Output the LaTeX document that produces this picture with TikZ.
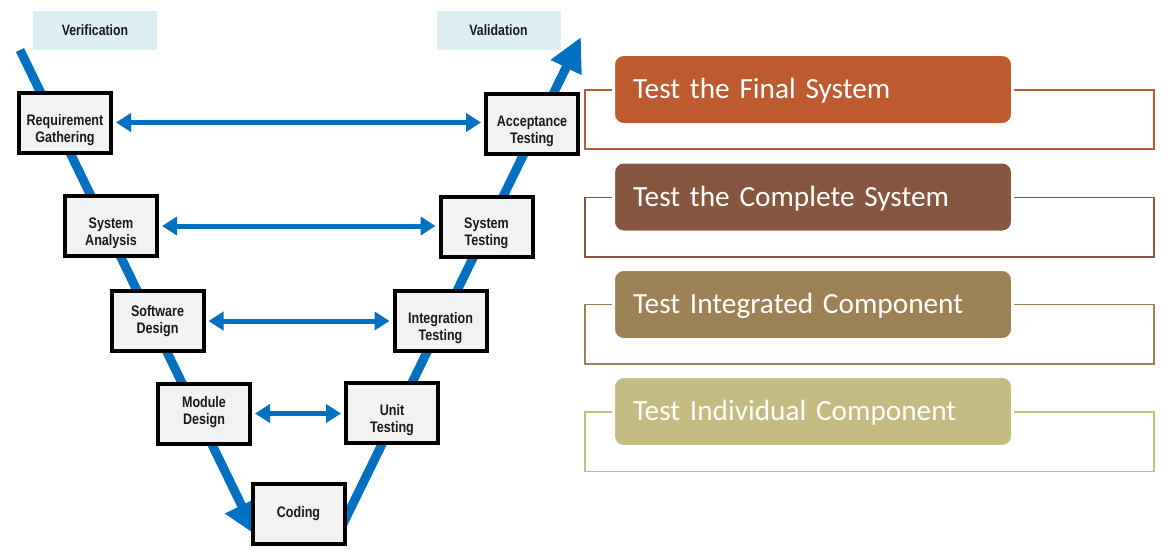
\documentclass[tikz,border=0pt]{standalone}
\usepackage{fontspec}
\setmainfont{Carlito}
\newfontfamily\vfont[FakeStretch=0.82]{Liberation Sans}
\usetikzlibrary{arrows.meta}
\definecolor{vblue}{HTML}{0070C0}
\definecolor{boxgrey}{HTML}{F2F2F2}
\definecolor{tagblue}{HTML}{DDEFF3}
\definecolor{textdark}{HTML}{1A1A1A}
\definecolor{lvA}{HTML}{BE5A2F}
\definecolor{lvB}{HTML}{875640}
\definecolor{lvC}{HTML}{9C8256}
\definecolor{lvD}{HTML}{C4BC82}
\begin{document}
\begin{tikzpicture}[x=1pt,y=-1pt,
  phase/.style={draw=black, line width=4pt, fill=boxgrey, minimum width=92pt,
    minimum height=60pt, inner sep=0pt},
  phasetxt/.style={inner sep=0pt, align=center, text=textdark,
    font=\vfont\bfseries\fontsize{15.3}{17}\selectfont},
  tag/.style={fill=tagblue, minimum width=124pt, minimum height=39pt, inner sep=0pt,
    text=textdark, font=\vfont\bfseries\fontsize{15}{17}\selectfont},
  harrow/.style={draw=vblue, line width=5pt,
    {Triangle[length=15pt,width=18pt]}-{Triangle[length=15pt,width=18pt]},
    shorten <=3pt, shorten >=3pt},
  vline/.style={draw=vblue, line width=9pt},
  level/.style={rounded corners=10pt, draw=white, line width=3pt, minimum width=399pt,
    minimum height=70pt, text width=360pt, inner xsep=19.5pt, inner ysep=0pt,
    align=left, text height=18.8pt, text depth=0pt, text=white,
    font=\fontsize{29.3}{31}\selectfont},
  frame/.style={line width=1.6pt}
]
\useasboundingbox (0,0) rectangle (1169,551);

% V lines
\coordinate (vstart) at (20,50);
\coordinate (vend) at (256,535);
\coordinate (rstart) at (340,530);
\coordinate (rend) at (581,37);
\draw[vline, -{Triangle[width=35pt,length=33pt]}] (vstart) -- (vend);
\draw[vline, -{Triangle[width=32pt,length=34pt]}] (rstart) -- (rend);

% labels
\node[tag] (ver) at (95,30.5) {Verification};
\node[tag] (val) at (498.5,30.5) {Validation};

% phases
\node[phase] (req) at (65,122.5) {};
\node[phase] (sa) at (111,226) {};
\node[phase] (sd) at (157.5,321) {};
\node[phase] (md) at (204,413.5) {};
\node[phase] (cod) at (298.5,514) {};
\node[phase] (ut) at (392,412.5) {};
\node[phase] (it) at (440.5,321) {};
\node[phase] (st) at (486.5,226.5) {};
\node[phase] (acc) at (532,124) {};

\node[phasetxt] (reqt) at ([yshift=-8pt]req.center) {Requirement\\Gathering};
\node[phasetxt] (sat) at ([yshift=-7.5pt]sa.center) {System\\Analysis};
\node[phasetxt] (sdt) at (sd.center) {Software\\Design};
\node[phasetxt] (mdt) at ([yshift=1.5pt]md.center) {Module\\Design};
\node[phasetxt] (codt) at (cod.center) {Coding};
\node[phasetxt] (utt) at ([yshift=-7.5pt]ut.center) {Unit\\Testing};
\node[phasetxt] (itt) at ([yshift=-7.5pt]it.center) {Integration\\Testing};
\node[phasetxt] (stt) at ([yshift=-7pt]st.center) {System\\Testing};
\node[phasetxt] (acct) at ([yshift=-7.5pt]acc.center) {Acceptance\\Testing};

\draw[harrow] (req.east) -- (req.east -| acc.west);
\draw[harrow] (sa.east) -- (sa.east -| st.west);
\draw[harrow] (sd.east) -- (sd.east -| it.west);
\draw[harrow] (md.east) -- (md.east -| ut.west);

% levels
\draw[frame, draw=lvA] (585,90) rectangle (1154,149);
\node[level, fill=lvA] (l1) at (813,89.5) {Test the Final System};
\draw[frame, draw=lvB] (585,197.5) rectangle (1154,257);
\node[level, fill=lvB] (l2) at (813,197) {Test the Complete System};
\draw[frame, draw=lvC] (585,304.5) rectangle (1154,364);
\node[level, fill=lvC] (l3) at (813,304.5) {Test Integrated Component};
\draw[frame, draw=lvD] (585,412) rectangle (1154,471.5);
\node[level, fill=lvD] (l4) at (813,411.5) {Test Individual Component};
\end{tikzpicture}
\end{document}
